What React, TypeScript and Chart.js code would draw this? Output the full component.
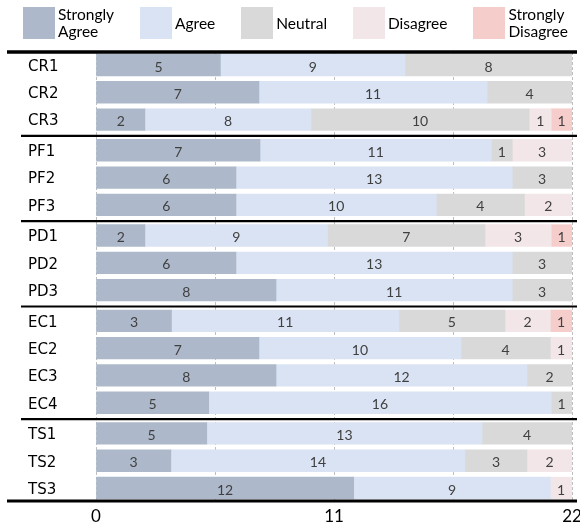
import React, { useEffect, useRef } from 'react';
import { Chart, registerables } from 'chart.js';

Chart.register(...registerables);

// ---- data ----
const categories = ['CR1', 'CR2', 'CR3', 'PF1', 'PF2', 'PF3', 'PD1', 'PD2', 'PD3', 'EC1', 'EC2', 'EC3', 'EC4', 'TS1', 'TS2', 'TS3'];
const seriesNames = ['Strongly Agree', 'Agree', 'Neutral', 'Disagree', 'Strongly Disagree'];
const seriesColors = ['#adb9ca', '#dae3f3', '#d9d9d9', '#f3e6e8', '#f5cdcb'];

// bar lengths as drawn in the picture (axis units, each row totals 22)
const stronglyAgree = [5.75, 7.53, 2.26, 7.58, 6.47, 6.47, 2.26, 6.47, 8.32, 3.49, 7.53, 8.32, 5.21, 5.12, 3.46, 11.91];
const agree = [8.53, 10.55, 7.68, 10.69, 12.77, 9.26, 8.44, 12.77, 10.92, 10.51, 9.34, 11.6, 15.83, 12.72, 13.59, 9.09];
const neutral = [7.72, 3.92, 10.08, 0.97, 2.76, 4.07, 7.28, 2.76, 2.76, 4.9, 4.13, 2.08, 0.96, 4.16, 2.87, null];
const disagree = [null, null, 1.02, 2.76, null, 2.2, 3.06, null, null, 2.1, 1.0, null, null, null, 2.08, 1.0];
const stronglyDisagree = [null, null, 0.96, null, null, null, 0.96, null, null, 1.0, null, null, null, null, null, null];

// numbers printed on the bars
const stronglyAgreeLabels = [5, 7, 2, 7, 6, 6, 2, 6, 8, 3, 7, 8, 5, 5, 3, 12];
const agreeLabels = [9, 11, 8, 11, 13, 10, 9, 13, 11, 11, 10, 12, 16, 13, 14, 9];
const neutralLabels = [8, 4, 10, 1, 3, 4, 7, 3, 3, 5, 4, 2, 1, 4, 3, null];
const disagreeLabels = [null, null, 1, 3, null, 2, 3, null, null, 2, 1, null, null, null, 2, 1];
const stronglyDisagreeLabels = [null, null, 1, null, null, null, 1, null, null, 1, null, null, null, null, null, null];

const xTickValues = [0, 5.5, 11, 16.5, 22];
const xTickLabels = ['0', '', '11', '', '22'];

const seriesLengths = [stronglyAgree, agree, neutral, disagree, stronglyDisagree];
const seriesLabels = [stronglyAgreeLabels, agreeLabels, neutralLabels, disagreeLabels, stronglyDisagreeLabels];

// ---- layout helpers ----
const GROUP_GAP = 0.124;
const prefix = (c: string) => c.replace(/\d+$/, '');
const groupIndex: number[] = [];
categories.forEach((c, i) => {
  groupIndex.push(i === 0 ? 0 : groupIndex[i - 1] + (prefix(c) !== prefix(categories[i - 1]) ? 1 : 0));
});
const positions = categories.map((_, i) => i + groupIndex[i] * GROUP_GAP);
const EDGE = 0.476;
const yMin = positions[0] - EDGE;
const yMax = positions[positions.length - 1] + EDGE;

const decorPlugin = {
  id: 'decor',
  afterDatasetsDraw(chart: any) {
    const ctx = chart.ctx;
    const { top, bottom } = chart.chartArea;
    const yScale = chart.scales.y;
    ctx.save();
    // value labels
    ctx.font = '14px Lato';
    ctx.fillStyle = '#404040';
    ctx.textAlign = 'center';
    ctx.textBaseline = 'middle';
    chart.data.datasets.forEach((ds: any, di: number) => {
      const meta = chart.getDatasetMeta(di);
      meta.data.forEach((bar: any, j: number) => {
        const lbl = ds.data[j].label;
        if (lbl == null) return;
        const p = bar.getProps(['x', 'base', 'y'], true);
        ctx.fillText(String(lbl), (p.x + p.base) / 2, p.y + 2);
      });
    });
    // black rules
    ctx.strokeStyle = '#000';
    ctx.lineCap = 'butt';
    ctx.lineWidth = 3.5;
    ctx.beginPath();
    ctx.moveTo(7, top);
    ctx.lineTo(577, top);
    ctx.stroke();
    ctx.lineWidth = 3;
    ctx.beginPath();
    ctx.moveTo(7, bottom);
    ctx.lineTo(577, bottom);
    ctx.stroke();
    ctx.lineWidth = 2.2;
    for (let i = 1; i < categories.length; i++) {
      if (groupIndex[i] !== groupIndex[i - 1]) {
        const yy = (yScale.getPixelForValue(positions[i - 1]) + yScale.getPixelForValue(positions[i])) / 2 + 1;
        ctx.beginPath();
        ctx.moveTo(21, yy);
        ctx.lineTo(577, yy);
        ctx.stroke();
      }
    }
    ctx.restore();
  },
};

export default function App() {
  const ref = useRef<HTMLCanvasElement>(null);
  useEffect(() => {
    const datasets = seriesNames.map((name, k) => ({
      label: name,
      data: seriesLengths[k]
        .map((v, i) => ({ x: v, y: positions[i], label: seriesLabels[k][i] }))
        .filter((p) => p.x != null),
      backgroundColor: seriesColors[k],
      borderWidth: 0,
      barThickness: 21.7,
    }));
    const chart = new Chart(ref.current as HTMLCanvasElement, {
      type: 'bar',
      data: { datasets } as any,
      plugins: [decorPlugin],
      options: {
        indexAxis: 'y',
        responsive: false,
        animation: false,
        events: [],
        layout: { padding: { left: 28, right: 8, top: 52, bottom: 0 } },
        plugins: { legend: { display: false }, tooltip: { enabled: false }, title: { display: false } },
        scales: {
          x: {
            type: 'linear',
            position: 'bottom',
            stacked: true,
            min: 0,
            max: 22,
            afterBuildTicks: (s: any) => {
              s.ticks = xTickValues.map((v) => ({ value: v }));
            },
            afterFit: (s: any) => {
              s.height = 24;
              s.paddingLeft = 0;
              s.paddingRight = 0;
            },
            ticks: {
              autoSkip: false,
              maxRotation: 0,
              padding: 5,
              color: '#000',
              font: { family: 'Lato', size: 17 },
              callback: (_v: any, i: number) => xTickLabels[i],
            },
            grid: { color: '#bfbfbf', lineWidth: 1, drawTicks: false },
            border: { display: false, dash: [3, 2] },
          },
          y: {
            type: 'linear',
            reverse: true,
            stacked: true,
            offset: false,
            min: yMin,
            max: yMax,
            afterBuildTicks: (s: any) => {
              s.ticks = positions.map((v) => ({ value: v }));
            },
            afterFit: (s: any) => {
              s.width = 68;
            },
            ticks: {
              autoSkip: false,
              crossAlign: 'far',
              padding: 0,
              labelOffset: 2,
              color: '#000',
              font: { family: 'DejaVu Sans', size: 15 },
              callback: (_v: any, i: number) => categories[i],
            },
            grid: { display: false, offset: false },
            border: { display: false },
          },
        },
      } as any,
    });
    return () => chart.destroy();
  }, []);

  return (
    <div style={{ position: 'absolute', left: 0, top: 0, width: 580, height: 525, background: '#fff', overflow: 'hidden' }}>
      <canvas ref={ref} width={580} height={525} style={{ position: 'absolute', left: 0, top: 0, width: 580, height: 525 }} />
      <div
        style={{
          position: 'absolute',
          left: 23,
          top: 7,
          width: 545,
          height: 32,
          display: 'flex',
          justifyContent: 'space-between',
          alignItems: 'center',
          fontFamily: 'Lato',
          fontSize: 15.5,
          lineHeight: '16.7px',
          color: '#000',
        }}
      >
        {seriesNames.map((n, k) => (
          <div key={n} style={{ display: 'flex', alignItems: 'center' }}>
            <div style={{ width: 32, height: 32, background: seriesColors[k], marginRight: 3, flex: 'none' }} />
            <span>
              {n.split(' ').map((w, i) => (
                <React.Fragment key={i}>
                  {i > 0 && <br />}
                  {w}
                </React.Fragment>
              ))}
            </span>
          </div>
        ))}
      </div>
    </div>
  );
}
